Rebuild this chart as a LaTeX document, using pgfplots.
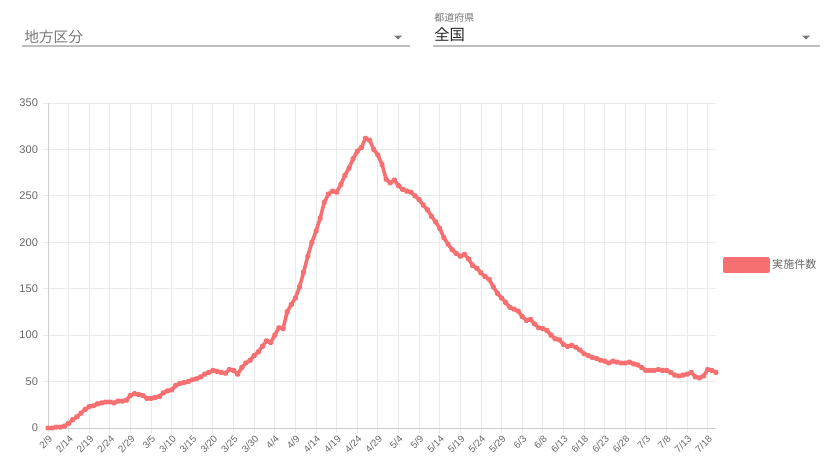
\documentclass[border=0pt]{standalone}
\usepackage{fontspec}
\setmainfont{Liberation Sans}
\newfontfamily\jp{Noto Sans CJK JP}
\usepackage{pgfplots}
\pgfplotsset{compat=1.18}
\usepackage{pgfplotstable}

\definecolor{lineRed}{RGB}{246,112,114}
\definecolor{markRed}{RGB}{222,86,92}
\definecolor{gridGray}{RGB}{234,234,234}
\definecolor{axisGray}{RGB}{205,205,205}
\definecolor{tickGray}{RGB}{102,102,102}
\definecolor{hintGray}{RGB}{120,120,120}
\definecolor{ruleGray}{RGB}{190,190,190}

% daily counts, day 0 = 2/9
\pgfplotstableread{
day val
0 0
1 0
2 1
3 1
4 2
5 5
6 9
7 12
8 16
9 20
10 23
11 24
12 26
13 27
14 28
15 28
16 27
17 29
18 29
19 30
20 35
21 37
22 36
23 35
24 32
25 32
26 33
27 34
28 38
29 40
30 41
31 46
32 48
33 49
34 50
35 52
36 53
37 55
38 58
39 60
40 62
41 61
42 60
43 59
44 63
45 62
46 58
47 65
48 70
49 73
50 78
51 82
52 88
53 94
54 92
55 100
56 108
57 107
58 125
59 133
60 140
61 152
62 168
63 185
64 200
65 212
66 226
67 243
68 252
69 255
70 254
71 262
72 272
73 280
74 290
75 298
76 302
77 312
78 310
79 300
80 294
81 284
82 268
83 264
84 267
85 261
86 257
87 255
88 254
89 250
90 246
91 240
92 235
93 228
94 222
95 215
96 205
97 198
98 192
99 188
100 185
101 187
102 182
103 175
104 172
105 167
106 163
107 160
108 152
109 145
110 140
111 135
112 130
113 128
114 126
115 120
116 116
117 117
118 112
119 108
120 107
121 105
122 100
123 96
124 95
125 90
126 88
127 89
128 87
129 84
130 80
131 78
132 76
133 75
134 73
135 72
136 70
137 72
138 71
139 70
140 70
141 71
142 69
143 68
144 65
145 62
146 62
147 62
148 63
149 62
150 62
151 60
152 57
153 56
154 57
155 58
156 60
157 55
158 54
159 56
160 63
161 62
162 60
}\daily

\begin{document}
\begin{tikzpicture}[x=0.75pt,y=-0.75pt]
\useasboundingbox (0,0) rectangle (827,461);
\coordinate (plotSW) at (48,428);

% selector: region
\node[anchor=base west,inner sep=0,text=hintGray,font=\jp\fontsize{11}{12}\selectfont] at (24,42) {地方区分};
\draw[ruleGray,line width=0.8pt] (22,46) -- (410,46);
\fill[hintGray] (394,35.5) -- (402,35.5) -- (398,39.5) -- cycle;

% selector: prefecture
\node[anchor=base west,inner sep=0,text=hintGray,font=\jp\fontsize{7.5}{8}\selectfont] at (434,21) {都道府県};
\node[anchor=base west,inner sep=0,text=black!85,font=\jp\fontsize{11.5}{12}\selectfont] at (434,40) {全国};
\draw[ruleGray,line width=0.8pt] (433,46) -- (820,46);
\fill[hintGray] (802,35.5) -- (810,35.5) -- (806,39.5) -- cycle;

\begin{axis}[
  at={(plotSW)}, anchor=south west,
  scale only axis, width=501pt, height=243.75pt,
  xmin=0, xmax=162, ymin=0, ymax=350,
  ytick={0,50,...,350},
  xtick={0,5,...,160},
  xticklabels={2/9,2/14,2/19,2/24,2/29,3/5,3/10,3/15,3/20,3/25,3/30,4/4,4/9,4/14,4/19,4/24,4/29,5/4,5/9,5/14,5/19,5/24,5/29,6/3,6/8,6/13,6/18,6/23,6/28,7/3,7/8,7/13,7/18},
  /pgf/number format/assume math mode=true,
  xticklabel style={rotate=45,anchor=north east,text=tickGray,font=\fontsize{7.3}{8}\selectfont,inner sep=0.5pt},
  yticklabel style={text=tickGray,font=\fontsize{8.3}{9}\selectfont},
  grid=major,
  major grid style={draw=gridGray,line width=0.7pt},
  axis x line*=bottom, axis y line*=left,
  axis line style={draw=axisGray,line width=0.7pt},
  tick align=outside, major tick length=4pt,
  tick style={draw=gridGray,line width=0.7pt},
  legend style={at={(1.0105,0.5015)},anchor=west,draw=none,fill=none,inner sep=0pt,
    font=\jp\fontsize{8.3}{9}\selectfont,text=tickGray,
    /tikz/every even column/.append style={column sep=2pt}},
  legend cell align=left,
  clip=false,
]
\addplot[lineRed,line width=2.7pt,line join=round,
  mark=*,mark size=0.9pt,mark options={fill=markRed,draw=none},
  legend image code/.code={\fill[lineRed] (0pt,-4.5pt) rectangle (32pt,4.5pt);}]
  table[x=day,y=val]{\daily};
\addlegendentry{実施件数}
\end{axis}
\end{tikzpicture}
\end{document}
